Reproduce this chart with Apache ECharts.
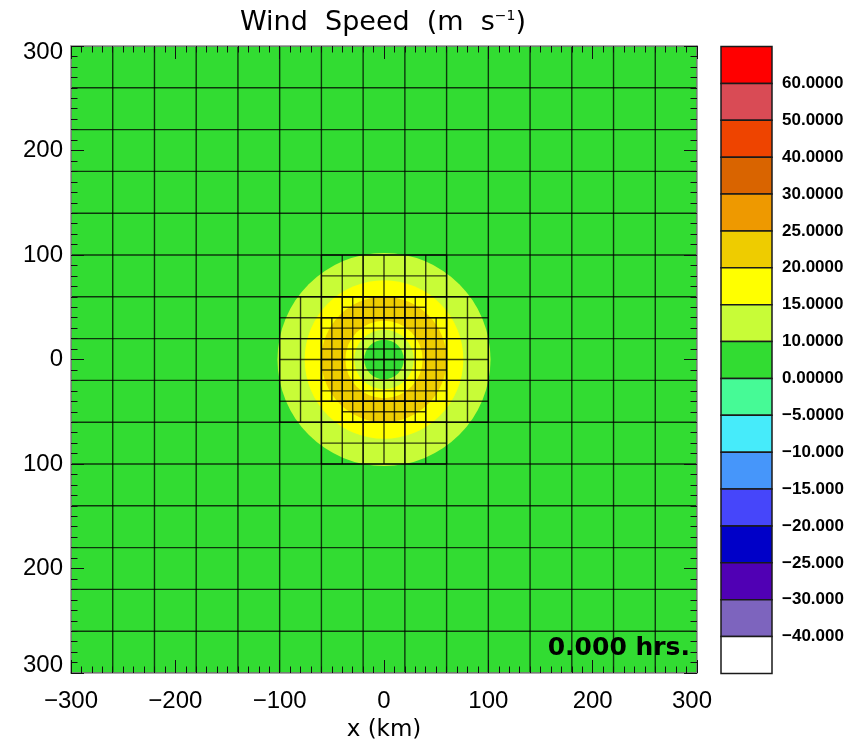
<!DOCTYPE html>
<html>
<head>
<meta charset="utf-8">
<script src="https://cdn.jsdelivr.net/npm/echarts@6/dist/echarts.min.js"></script>
<style>
  html, body { margin: 0; padding: 0; background: #ffffff; }
  #chart { width: 860px; height: 744px; }
</style>
</head>
<body>
<div id="chart"></div>
<script>
// Colour-bar levels (m s^-1), listed top to bottom, and the fill of each box
const levelValues = [60, 50, 40, 30, 25, 20, 15, 10, 0, -5, -10, -15, -20, -25, -30, -40];
const levelLabels = ['60.0000', '50.0000', '40.0000', '30.0000', '25.0000', '20.0000', '15.0000', '10.0000',
                     '0.00000', '−5.0000', '−10.000', '−15.000', '−20.000', '−25.000', '−30.000', '−40.000'];
const levelColors = ['#ff0000', '#d94b55', '#ee4400', '#d96400', '#ee9900', '#eecc00', '#ffff00', '#c8fc37',
                     '#32dc32', '#46fa96', '#46ebfa', '#4696fa', '#4646fa', '#0000c8', '#5000b4', '#7d64be', '#ffffff'];

// Axis ticks (km) and their labels
const axisTicks = [-300, -200, -100, 0, 100, 200, 300];
const xTickLabels = ['−300', '−200', '−100', '0', '100', '200', '300'];
const yTickLabels = ['300', '200', '100', '0', '100', '200', '300'];

// Vortex wind field: outer radius (km) of each ring and a speed inside it
const ringRadius = [102, 76, 60, 37, 28.5, 19];
const ringSpeed = [12, 17, 22, 17, 12, 5];
const ambientSpeed = 5;
const domain = [-300, 300];

// Nested mesh patches [x0, x1, y0, y1] (km) and the cell size of each level
const meshLevel1 = [[-300, 300, -300, 300]];
const meshLevel2 = [[-60, 60, 60, 100], [-100, 100, -60, 60], [-60, 60, -100, -60]];
const meshLevel3 = [[-40, 40, 40, 60], [-60, 60, -40, 40], [-40, 40, -60, -40]];
const meshCell = [40, 20, 10];

const timeLabel = '0.000 hrs.';

function colorFor(v) {
  for (let i = 0; i < levelValues.length; i++) {
    if (v >= levelValues[i]) return levelColors[i];
  }
  return levelColors[levelColors.length - 1];
}

// Cell edges of every mesh patch as line segments [x0, y0, x1, y1]
function meshSegments(patches, dx) {
  const segs = [];
  patches.forEach(function (p) {
    const nx = Math.round((p[1] - p[0]) / dx);
    const ny = Math.round((p[3] - p[2]) / dx);
    for (let i = 0; i <= nx; i++) {
      const x = p[0] + i * dx;
      segs.push([x, p[2], x, p[3]]);
    }
    for (let j = 0; j <= ny; j++) {
      const y = p[2] + j * dx;
      segs.push([p[0], y, p[1], y]);
    }
  });
  return segs;
}
const meshData = []
  .concat(meshSegments(meshLevel1, meshCell[0]))
  .concat(meshSegments(meshLevel2, meshCell[1]))
  .concat(meshSegments(meshLevel3, meshCell[2]));

const ringData = ringRadius.map(function (r, i) { return [0, 0, r, ringSpeed[i]]; });
const boxData = levelColors.map(function (c, i) { return [i, c]; });

const labelFont = 'Liberation Sans';
const chart = echarts.init(document.getElementById('chart'), null, { renderer: 'canvas' });

const tickAxisCommon = {
  type: 'value', min: domain[0], max: domain[1], interval: 100,
  z: 6,
  axisLine: { show: true, onZero: false, lineStyle: { color: '#8c8c8c', width: 1.5 } },
  axisTick: { show: true, inside: true, length: 13, lineStyle: { color: '#111', width: 1 } },
  minorTick: { show: true, splitNumber: 10, length: 6.5, lineStyle: { color: '#111', width: 1 } },
  splitLine: { show: false },
  minorSplitLine: { show: false }
};

const option = {
  animation: false,
  backgroundColor: '#ffffff',
  grid: [
    { left: 71, top: 46, width: 626, height: 627, containLabel: false, outerBoundsMode: 'none' },
    { left: 721, top: 46.5, width: 51, height: 627, containLabel: false, outerBoundsMode: 'none' }
  ],
  xAxis: [
    Object.assign({}, tickAxisCommon, {
      gridIndex: 0, position: 'bottom',
      name: 'x (km)', nameLocation: 'middle', nameGap: 46,
      nameTextStyle: { fontFamily: 'DejaVu Sans', fontSize: 23, color: '#000' },
      axisLabel: {
        show: true, margin: 16, fontFamily: labelFont, fontSize: 24, color: '#000',
        formatter: function (v) {
          const t = xTickLabels[axisTicks.indexOf(v)] || '';
          return v === domain[1] ? '{end|' + t + '}' : t;
        },
        rich: { end: { fontFamily: labelFont, fontSize: 24, padding: [0, 10, 0, 0] } }
      }
    }),
    Object.assign({}, tickAxisCommon, { gridIndex: 0, position: 'top', axisLabel: { show: false } }),
    { type: 'value', gridIndex: 1, min: 0, max: 1, show: false }
  ],
  yAxis: [
    Object.assign({}, tickAxisCommon, {
      gridIndex: 0, position: 'left',
      axisLabel: {
        show: true, margin: 8, fontFamily: labelFont, fontSize: 24, color: '#000',
        formatter: function (v) {
          const t = yTickLabels[axisTicks.indexOf(v)] || '';
          if (v === domain[1]) return '{hi|' + t + '}';
          if (v === domain[0]) return '{lo|' + t + '}';
          return t;
        },
        rich: {
          hi: { fontFamily: labelFont, fontSize: 24, padding: [12, 0, 0, 0] },
          lo: { fontFamily: labelFont, fontSize: 24, padding: [0, 0, 16, 0] }
        }
      }
    }),
    Object.assign({}, tickAxisCommon, { gridIndex: 0, position: 'right', axisLabel: { show: false } }),
    {
      type: 'value', gridIndex: 1, min: 0, max: 17, interval: 1, position: 'right',
      axisLine: { show: false }, axisTick: { show: false }, splitLine: { show: false },
      axisLabel: {
        show: true, margin: 10, fontFamily: labelFont, fontWeight: 'bold', fontSize: 17, color: '#000',
        formatter: function (v) { return (v >= 1 && v <= 16) ? levelLabels[16 - v] : ''; }
      }
    }
  ],
  graphic: [
    {
      type: 'text', z: 10, x: 383, y: 23,
      style: {
        text: 'Wind  Speed  (m  s{sup|−1})',
        font: '27px "DejaVu Sans"', fill: '#000',
        textAlign: 'center', textVerticalAlign: 'middle',
        rich: { sup: { fontSize: 14, fontFamily: 'DejaVu Sans', verticalAlign: 'top', padding: [0, 0, 12, 0] } }
      }
    },
    {
      type: 'text', z: 10, x: 690, y: 648,
      style: {
        text: timeLabel, font: 'bold 25px "DejaVu Sans"', fill: '#000',
        textAlign: 'right', textVerticalAlign: 'middle'
      }
    }
  ],
  series: [
    {
      // ambient field over the whole domain
      type: 'custom', xAxisIndex: 0, yAxisIndex: 0, clip: true, z: 1,
      data: [[domain[0], domain[1], domain[0], domain[1], ambientSpeed]],
      renderItem: function (params, api) {
        const p0 = api.coord([api.value(0), api.value(3)]);
        const p1 = api.coord([api.value(1), api.value(2)]);
        return { type: 'rect', shape: { x: p0[0], y: p0[1], width: p1[0] - p0[0], height: p1[1] - p0[1] },
                 style: { fill: colorFor(api.value(4)) } };
      }
    },
    {
      // filled speed rings, outermost first
      type: 'custom', xAxisIndex: 0, yAxisIndex: 0, clip: true, z: 2,
      data: ringData,
      renderItem: function (params, api) {
        const c = api.coord([api.value(0), api.value(1)]);
        const s = api.size([api.value(2), api.value(2)]);
        return { type: 'circle', shape: { cx: c[0], cy: c[1], r: (s[0] + s[1]) / 2 },
                 style: { fill: colorFor(api.value(3)) } };
      }
    },
    {
      // nested mesh cell edges
      type: 'custom', xAxisIndex: 0, yAxisIndex: 0, clip: true, z: 3,
      data: meshData,
      renderItem: function (params, api) {
        const a = api.coord([api.value(0), api.value(1)]);
        const b = api.coord([api.value(2), api.value(3)]);
        return { type: 'line', shape: { x1: a[0], y1: a[1], x2: b[0], y2: b[1] },
                 style: { stroke: 'rgba(0,0,0,0.75)', lineWidth: 1.4 } };
      }
    },
    {
      // colour-bar boxes, top to bottom
      type: 'custom', xAxisIndex: 2, yAxisIndex: 2, z: 2,
      data: boxData,
      renderItem: function (params, api) {
        const i = api.value(0);
        const p0 = api.coord([0, 17 - i]);
        const p1 = api.coord([1, 16 - i]);
        return { type: 'rect', shape: { x: p0[0], y: p0[1], width: p1[0] - p0[0], height: p1[1] - p0[1] },
                 style: { fill: levelColors[i], stroke: '#1a1a1a', lineWidth: 1.5 } };
      }
    }
  ]
};
chart.setOption(option);
</script>
</body>
</html>
